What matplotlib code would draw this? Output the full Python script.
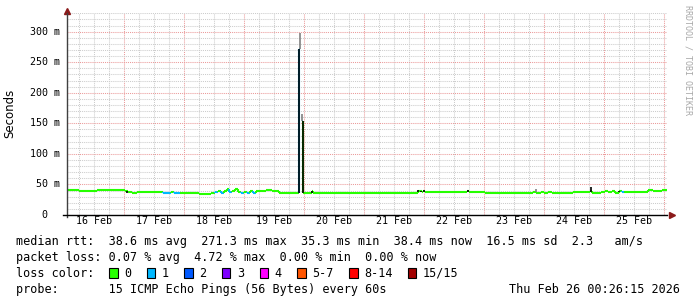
import matplotlib
matplotlib.use('Agg')
import matplotlib.pyplot as plt
from matplotlib.patches import Rectangle
from matplotlib.ticker import MultipleLocator

nan = float('nan')

# median rtt: hours since 16 Feb 00:00, value in ms, loss class index
t_hours = [1.0, 4.0, 6.0, 10.4, 13.2, 24.4, 25.6, 27.2, 29.2, 34.0,
           39.6, 42.8, 44.0, 46.4, 52.0, 54.0, 58.8, 60.4, 61.6, 62.8,
           64.0, 65.2, 66.0, 67.2, 68.4, 69.6, 70.8, 72.0, 73.2, 74.4,
           75.6, 76.8, 78.4, 80.8, 83.2, 86.0, 87.6, 90.4, 94.0, 94.5,
           95.0, 95.4, 99.0, 99.6, 112.0, 113.0, 141.6, 143.0, 143.6, 144.4,
           161.2, 162.0, 168.4, 187.6, 188.8, 190.8, 192.0, 193.6, 195.2, 203.6,
           210.4, 211.2, 214.8, 216.4, 217.6, 219.2, 220.4, 222.0, 223.2, 224.0,
           233.6, 235.6, 237.6, 239.2, 241.2]
rtt_ms = [40.2, 40.6, 40.0, 38.6, 41.3, 39.5, 37.2, 35.3, 37.0, 37.4,
          36.4, 37.2, 36.4, 35.4, 35.8, 35.0, 35.6, 37.6, 38.8, 36.0,
          38.6, 41.8, 37.0, 39.4, 42.5, 38.2, 36.2, 38.4, 36.8, 39.0,
          36.6, 38.6, 39.6, 40.4, 39.2, 36.4, 35.2, 36.2, 271.3, nan,
          154.0, 36.6, 38.8, 36.5, 36.0, 36.6, 39.0, 37.8, 40.0, 37.6,
          39.5, 37.6, 36.4, 37.6, 36.4, 38.0, 36.8, 38.2, 36.4, 37.2,
          40.0, 36.4, 37.6, 39.0, 37.2, 39.8, 36.8, 38.8, 37.4, 37.4,
          40.8, 38.8, 39.6, 40.2, 40.2]
loss_idx = [0, 0, 0, 0, 0, 0, 0, 0, 0, 0,
            1, 0, 1, 0, 0, 0, 0, 1, 0, 1,
            0, 0, 1, 0, 0, 0, 1, 0, 1, 0,
            1, 0, 0, 0, 0, 0, 0, 0, 1, 0,
            1, 0, 0, 0, 0, 0, 0, 0, 0, 0,
            0, 0, 0, 0, 0, 0, 0, 0, 0, 0,
            0, 0, 0, 0, 0, 0, 0, 0, 1, 0,
            0, 0, 0, 0, 0]

# smoke (ping spread) spikes
smoke_t = [25.2, 94.0, 95.4, 99.2, 141.4, 142.6, 144.0, 161.4, 210.6, 222.0]
smoke_lo = [36, 36, 36, 36.5, 37, 37, 37, 37, 37, 37]
smoke_hi = [40, 271, 154, 40, 41, 40, 41, 41.5, 46, 40]
haze_t = [94.2, 95.2, 188.8]
haze_lo = [271, 154, 37]
haze_hi = [298, 166, 43]

loss_labels = ['0', '1', '2', '3', '4', '5-7', '8-14', '15/15']
loss_colors = ['#26ff00', '#00b8ff', '#0059ff', '#7e00ff', '#ff00ff',
               '#ff5500', '#ff0000', '#a10000']

day_labels = ['16 Feb', '17 Feb', '18 Feb', '19 Feb', '20 Feb',
              '21 Feb', '22 Feb', '23 Feb', '24 Feb', '25 Feb']
y_ticks = [0, 50, 100, 150, 200, 250, 300]
y_labels = ['0  ', '50 m', '100 m', '150 m', '200 m', '250 m', '300 m']

W, H = 697, 297
mono = 'DejaVu Sans Mono'

fig = plt.figure(figsize=(W / 100, H / 100), dpi=100)
fig.patch.set_facecolor('white')
ax = fig.add_axes([67 / W, 1 - 215 / H, 600 / W, (215 - 13.3) / H])
ax.set_xlim(1.2, 241.2)
ax.set_ylim(0, 330)
for s in ax.spines.values():
    s.set_visible(False)

# grid
ax.xaxis.set_major_locator(MultipleLocator(24))
ax.xaxis.set_minor_locator(MultipleLocator(6))
ax.yaxis.set_major_locator(MultipleLocator(50))
ax.yaxis.set_minor_locator(MultipleLocator(10))
ax.grid(which='minor', color='#cccccc', linestyle=(0, (1, 1)), linewidth=0.75)
ax.grid(which='major', color='#eb9a9a', linestyle=(0, (1, 1)), linewidth=0.75)
ax.set_axisbelow(True)
ax.tick_params(which='both', length=0, labelbottom=False, labelleft=False)

# median line, colored by loss
for i in range(len(t_hours) - 1):
    c = loss_colors[loss_idx[i]]
    ax.hlines(rtt_ms[i], t_hours[i], t_hours[i + 1], color=c, lw=1.5, zorder=3)
    if i > 0:
        ax.vlines(t_hours[i], rtt_ms[i - 1], rtt_ms[i], color=c, lw=1.5, zorder=3)

ax.vlines(haze_t, haze_lo, haze_hi, color='#808080', lw=1.2, zorder=4)
ax.vlines(smoke_t, smoke_lo, smoke_hi, color='black', lw=1.2, zorder=4)

# axes with arrows
ax.plot([0, 0], [-0.01, 1.0], transform=ax.transAxes, color='#404040', lw=1, clip_on=False, zorder=5)
ax.plot([-0.006, 1.0], [0, 0], transform=ax.transAxes, color='black', lw=1, clip_on=False, zorder=5)
ax.plot([0], [1.01], transform=ax.transAxes, marker='^', color='#8b1a1a', ms=4, clip_on=False)
ax.plot([1.008], [0], transform=ax.transAxes, marker='>', color='#8b1a1a', ms=4, clip_on=False)

# tick labels
for k, lab in enumerate(day_labels):
    ax.text(12 + 24 * k, -10, lab, family=mono, fontsize=7.2, ha='center', va='center')
for v, lab in zip(y_ticks, y_labels):
    ax.text(60 / W, 1 - (215 - v * 0.611) / H, lab, transform=fig.transFigure,
            family=mono, fontsize=7.2, ha='right', va='center')

fig.text(10 / W, 1 - 113 / H, 'Seconds', rotation=90, family='DejaVu Sans',
         fontsize=8.5, ha='center', va='center')
fig.text(688 / W, 1 - 5 / H, 'RRDTOOL / TOBI OETIKER', rotation=270, family=mono,
         fontsize=6, color='#a8a8a8', ha='center', va='top')

# legend rows
rows = [
    'median rtt:  38.6 ms avg  271.3 ms max  35.3 ms min  38.4 ms now  16.5 ms sd  2.3   am/s',
    'packet loss: 0.07 % avg  4.72 % max  0.00 % min  0.00 % now',
    'loss color:',
    'probe:       15 ICMP Echo Pings (56 Bytes) every 60s',
]
for r, txt in enumerate(rows):
    fig.text(16 / W, 1 - (245 + 16 * r) / H, txt, family=mono, fontsize=8.5, va='baseline')
fig.text(680 / W, 1 - 293 / H, 'Thu Feb 26 00:26:15 2026', family=mono, fontsize=8.5,
         va='baseline', ha='right')

x = 109.0
for lab, col in zip(loss_labels, loss_colors):
    fig.patches.append(Rectangle((x / W, 1 - 277.5 / H), 8.5 / W, 9.5 / H, transform=fig.transFigure,
                                 facecolor=col, edgecolor='black', lw=0.8))
    fig.text((x + 15) / W, 1 - 277 / H, lab, family=mono, fontsize=8.5, va='baseline')
    x = x + 15 + len(lab) * 7.05 + 15.6

fig.savefig('out.png', dpi=100)
